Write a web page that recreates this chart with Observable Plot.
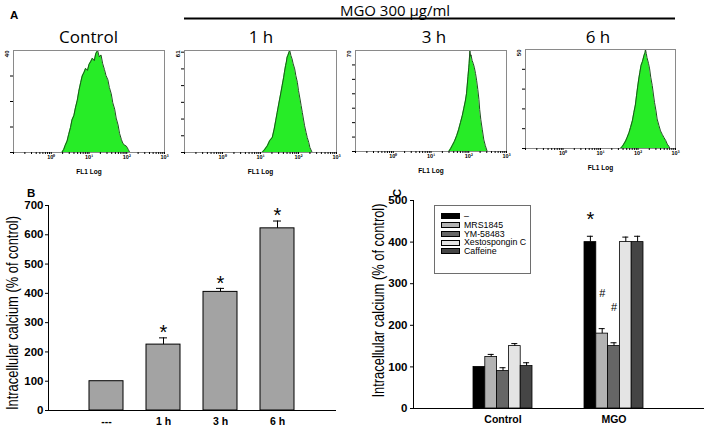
<!DOCTYPE html>
<html>
<head>
<meta charset="utf-8">
<script src="https://cdn.jsdelivr.net/npm/d3@7"></script>
<script src="https://cdn.jsdelivr.net/npm/@observablehq/plot@0.6"></script>
<style>
html, body { margin: 0; padding: 0; background: #fff; }
#root { position: relative; width: 709px; height: 427px; overflow: hidden; background: #fff; font-family: "Liberation Sans", Arial, sans-serif; }
#root svg { overflow: visible; }
</style>
</head>
<body>
<div id="root"></div>
<script>
// ---------------- DATA ----------------
// Panel A: flow cytometry histograms (x = log10 of FL1, y = counts)
const histTitles = ["Control", "1 h", "3 h", "6 h"];
const histMax = [40, 61, 70, 50];
const histTickLabels = ["10⁰", "10¹", "10²", "10³"];

const ctrlLog = [0.28,0.33,0.37,0.42,0.46,0.51,0.55,0.60,0.64,0.69,0.73,0.78,0.82,0.87,0.91,0.96,1.00,1.05,1.09,1.14,1.18,1.23,1.27,1.32,1.36,1.41,1.45,1.50,1.54,1.59,1.63,1.68,1.72,1.77,1.81,1.86,1.90,1.95,1.99,2.04,2.08];
const ctrlCount = [0,1.2,2.8,4.5,7.0,9.8,12.8,14.5,17.5,20.5,24.0,27.5,30.0,31.5,33.0,32.2,34.5,35.8,37.0,36.0,38.8,40,37.5,38.2,35.0,32.5,30.2,28.5,25.5,23.0,19.5,17.0,13.5,10.8,7.5,5.0,3.5,2.8,2.5,1.2,0];

const h1Log = [1.04,1.10,1.18,1.24,1.31,1.36,1.40,1.44,1.48,1.53,1.57,1.61,1.63,1.66,1.68,1.70,1.72,1.75,1.77,1.80,1.83,1.86,1.90,1.93,1.97,2.00,2.04,2.07,2.10,2.13,2.16,2.20,2.23,2.27,2.30,2.36];
const h1Count = [0,1.5,4,7,9,14,19,24,29,35,40,45,48,52,54,57,58,60,61,58,56,53,50,46,42,37,32,28,24,20,16,12,9,6,3,0];

const h3Log = [1.47,1.52,1.56,1.62,1.68,1.73,1.78,1.83,1.87,1.91,1.94,1.96,1.98,2.00,2.01,2.03,2.05,2.06,2.09,2.12,2.15,2.18,2.21,2.24,2.27,2.29,2.32,2.36,2.40,2.44,2.49];
const h3Count = [0,2,4,7,11,15,20,25,30,35,40,46,52,58,61,70,66,67,63,61,58,54,49,43,36,29,22,15,8,4,0];

const h6Log = [1.53,1.58,1.62,1.67,1.71,1.76,1.80,1.85,1.89,1.93,1.96,1.99,2.02,2.05,2.08,2.12,2.16,2.19,2.20,2.22,2.24,2.28,2.31,2.34,2.38,2.41,2.44,2.48,2.51,2.56,2.60,2.65,2.69,2.74,2.78,2.82,2.85];
const h6Count = [0,1,2.2,3.8,5.6,8,10.6,14,18.2,22,26.6,31,35.1,38.5,41.9,44,47,48.5,50,48,45.9,43,40.2,36,31.8,27.5,23.3,19,14.9,11.5,8.9,7,5.6,4,2.2,1.2,0];

// Panel B
const bCats = ["---", "1 h", "3 h", "6 h"];
const bMeans = [100, 225, 405, 622];
const bErrs = [0, 23, 12, 25];
const bSig = ["", "*", "*", "*"];

// Panel C
const cGroups = ["Control", "MGO"];
const cTreatments = ["–", "MRS1845", "YM-58483", "Xestospongin C", "Caffeine"];
const cColors = ["#000000", "#b3b3b3", "#666666", "#e4e4e4", "#454545"];
const cControl = [100, 124, 90, 150, 102];
const cControlErr = [0, 6, 8, 6, 8];
const cMGO = [400, 180, 150, 400, 400];
const cMGOErr = [14, 12, 8, 12, 14];
const cMGOSig = ["*", "#", "#", "", ""];

const yLabel = "Intracellular calcium (% of control)";

// ---------------- LAYOUT ----------------
const FONT = '"Liberation Sans", Arial, sans-serif';
const root = document.getElementById("root");
function place(el, left, top) {
  el.style.position = "absolute";
  el.style.left = left + "px";
  el.style.top = top + "px";
  root.appendChild(el);
}
const baseStyle = {background: "transparent", overflow: "visible", fontFamily: FONT, color: "#000"};

// ---------------- PANEL A ----------------
const histLogs = [ctrlLog, h1Log, h3Log, h6Log];
const histCounts = [ctrlCount, h1Count, h3Count, h6Count];
const histFrames = [[13, 50, 151, 102], [184, 50, 152, 102], [355, 50, 151, 101], [525, 49, 150, 99]];
const decadeTicks = [];
for (let n = -1; n < 3; n++) {
  decadeTicks.push(n);
  for (let k = 2; k < 10; k++) decadeTicks.push(n + Math.log10(k));
}
decadeTicks.push(3);

histTitles.forEach((t, i) => {
  const [fl, ft, fw, fh] = histFrames[i];
  const mL = 14, mR = 10, mT = 6, mB = 28;
  const data = histLogs[i].map((x, k) => ({x, y: histCounts[i][k]}));
  const p = Plot.plot({
    width: fw + mL + mR, height: fh + mT + mB,
    marginLeft: mL, marginRight: mR, marginTop: mT, marginBottom: mB,
    style: baseStyle,
    x: {domain: [-1, 3], label: null},
    y: {domain: [0, histMax[i]], label: null},
    marks: [
      Plot.areaY(data, {x: "x", y: "y", fill: "#27ec27"}),
      Plot.lineY(data, {x: "x", y: "y", stroke: "#1f4f1f", strokeWidth: 1}),
      Plot.frame({stroke: "#8a8a8a"}),
      Plot.axisX({ticks: decadeTicks, tickSize: 2, tickPadding: 1, fontSize: 5.5, fontWeight: "bold", label: null,
        tickFormat: d => (Number.isInteger(d) && d >= 0) ? histTickLabels[d] : ""}),
      Plot.axisY({ticks: d3.range(0, histMax[i], 10), tickSize: 3, tickFormat: () => "", label: null}),
      Plot.text([String(histMax[i])], {frameAnchor: "top-left", text: d => d, rotate: -90, textAnchor: "end", dx: -9, fontSize: 6, fontWeight: "bold"}),
      Plot.text(["FL1 Log"], {frameAnchor: "bottom", text: d => d, dy: 21, lineAnchor: "bottom", fontSize: 6.5, fontWeight: "bold"})
    ]
  });
  place(p, fl - mL, ft - mT);
});

// ---------------- PANEL B ----------------
const bData = bCats.map((c, i) => ({c, v: bMeans[i], e: bErrs[i], s: bSig[i]}));
const bErrData = bData.filter(d => d.e > 0);
const plotB = Plot.plot({
  width: 355, height: 252,
  marginLeft: 48, marginRight: 20, marginTop: 30, marginBottom: 17,
  style: baseStyle,
  x: {domain: bCats, paddingInner: 0.41, paddingOuter: 0.7, label: null},
  y: {domain: [0, 700], label: null},
  marks: [
    Plot.barY(bData, {x: "c", y: "v", fill: "#a3a3a3", stroke: "#000", strokeWidth: 1}),
    Plot.ruleX(bErrData, {x: "c", y1: "v", y2: d => d.v + d.e, stroke: "#000"}),
    Plot.tickY(bErrData, {x: "c", y: d => d.v + d.e, insetLeft: 13, insetRight: 13, stroke: "#000"}),
    Plot.text(bData.filter(d => d.s), {x: "c", y: d => d.v + d.e, text: "s", dy: -5, fontSize: 20, lineAnchor: "middle"}),
    Plot.frame({anchor: "left", stroke: "#000"}),
    Plot.frame({anchor: "bottom", stroke: "#000"}),
    Plot.axisY({ticks: d3.range(0, 701, 100), tickSize: 3, tickPadding: 2, fontSize: 11.5, fontWeight: "bold", label: null}),
    Plot.axisX({tickSize: 0, tickPadding: 7, fontSize: 10.5, fontWeight: "bold", label: null}),
    Plot.text([yLabel], {frameAnchor: "left", text: d => d, rotate: -90, dx: -36, dy: 5, fontSize: 16.5, lineAnchor: "middle"})
  ]
});
place(plotB, 0, 175);

// ---------------- PANEL C ----------------
const cDims = {width: 349, height: 252, marginLeft: 53, marginRight: 6, marginTop: 25, marginBottom: 19};
const cX = {domain: cGroups, paddingInner: 0.47, paddingOuter: 0.53, label: null};
const cY = {domain: [0, 500], label: null};
const probe = Plot.plot({...cDims, x: cX, y: cY, marks: [Plot.barY(cGroups, {x: d => d, y: () => 1})]});
const sw = probe.scale("x").bandwidth / cTreatments.length;
const nT = cTreatments.length;
const cMarks = [];
cTreatments.forEach((t, j) => {
  const rows = cGroups.map((g, gi) => ({
    g,
    v: gi === 0 ? cControl[j] : cMGO[j],
    e: gi === 0 ? cControlErr[j] : cMGOErr[j],
    s: gi === 0 ? "" : cMGOSig[j]
  }));
  const off = (j - (nT - 1) / 2) * sw;
  const errRows = rows.filter(d => d.e > 0);
  cMarks.push(Plot.barY(rows, {x: "g", y: "v", fill: cColors[j], stroke: "#000", strokeWidth: 0.8,
    insetLeft: j * sw, insetRight: (nT - 1 - j) * sw}));
  cMarks.push(Plot.ruleX(errRows, {x: "g", y1: "v", y2: d => d.v + d.e, dx: off, stroke: "#000"}));
  cMarks.push(Plot.tickY(errRows, {x: "g", y: d => d.v + d.e, stroke: "#000",
    insetLeft: j * sw + (sw - 6) / 2, insetRight: (nT - 1 - j) * sw + (sw - 6) / 2}));
  cMarks.push(Plot.text(rows.filter(d => d.s === "*"), {x: "g", y: d => d.v + d.e, text: "s", dx: off, dy: -17, fontSize: 20, lineAnchor: "middle"}));
  cMarks.push(Plot.text(rows.filter(d => d.s === "#"), {x: "g", y: d => d.v + d.e, text: "s", dx: off, dy: -35, fontSize: 11, lineAnchor: "middle"}));
});
const plotC = Plot.plot({
  ...cDims,
  style: baseStyle,
  x: cX, y: cY,
  marks: [
    ...cMarks,
    Plot.frame({anchor: "left", stroke: "#000"}),
    Plot.frame({anchor: "bottom", stroke: "#000"}),
    Plot.axisY({ticks: d3.range(0, 501, 100), tickSize: 3, tickPadding: 3, fontSize: 11.5, fontWeight: "bold", label: null}),
    Plot.axisX({tickSize: 0, tickPadding: 7, fontSize: 10.5, fontWeight: "bold", label: null}),
    Plot.text([yLabel], {frameAnchor: "left", text: d => d, rotate: -90, dx: -35, dy: -4, fontSize: 16.5, lineAnchor: "middle"})
  ]
});
place(plotC, 360, 175);

// condense the long rotated axis titles like the original (keep them centred)
const labelLen = 194;
[plotB, plotC].forEach(p => {
  p.querySelectorAll("text").forEach(el => {
    if (el.textContent === yLabel) {
      el.setAttribute("textLength", labelLen);
      el.setAttribute("lengthAdjust", "spacingAndGlyphs");
      el.setAttribute("text-anchor", "start");
      el.setAttribute("x", -labelLen / 2);
    }
  });
});

// legend for panel C
const legend = document.createElement("div");
legend.style.cssText = "width:95px;height:61px;border:1px solid #6e6e6e;background:#fff;box-sizing:content-box;padding-top:6px;font-family:" + FONT + ";font-size:8.8px;color:#000;";
cTreatments.forEach((t, j) => {
  const row = document.createElement("div");
  row.style.cssText = "display:flex;align-items:center;height:8.75px;padding-left:6px;";
  const sw0 = document.createElement("span");
  sw0.style.cssText = "display:inline-block;width:17px;height:4px;border:1px solid #000;margin-right:4px;background:" + cColors[j];
  const lab = document.createElement("span");
  lab.textContent = t;
  lab.style.lineHeight = "8.75px";
  row.appendChild(sw0); row.appendChild(lab);
  legend.appendChild(row);
});
place(legend, 434, 205);

// ---------------- ANNOTATIONS ----------------
const svgNS = "http://www.w3.org/2000/svg";
const ov = document.createElementNS(svgNS, "svg");
ov.setAttribute("width", 709);
ov.setAttribute("height", 427);
ov.style.cssText = "position:absolute;left:0;top:0;pointer-events:none;overflow:visible";
function addText(str, x, y, attrs) {
  const t = document.createElementNS(svgNS, "text");
  t.textContent = str;
  t.setAttribute("x", x); t.setAttribute("y", y);
  for (const k in attrs) t.setAttribute(k, attrs[k]);
  ov.appendChild(t);
  return t;
}
const titleFont = {"font-family": '"Open Sans", Lato, sans-serif', "font-size": 17, "text-anchor": "middle", fill: "#000"};
const titleX = [88.5, 261, 434, 598];
histTitles.forEach((t, i) => addText(t, titleX[i], 42.5, titleFont));
addText("MGO 300 μg/ml", 395, 16, {"font-family": '"Open Sans", Lato, sans-serif', "font-size": 15, "text-anchor": "middle", fill: "#000"});
const line = document.createElementNS(svgNS, "line");
line.setAttribute("x1", 184); line.setAttribute("x2", 675);
line.setAttribute("y1", 18.5); line.setAttribute("y2", 18.5);
line.setAttribute("stroke", "#000"); line.setAttribute("stroke-width", 2);
ov.appendChild(line);
const panelFont = {"font-family": FONT, "font-size": 11.5, "font-weight": "bold", fill: "#000"};
addText("A", 10, 19, panelFont);
addText("B", 27, 197, panelFont);
addText("C", 401, 193, {...panelFont, "text-anchor": "middle", transform: "rotate(-90 401 193)"});
root.appendChild(ov);
</script>
</body>
</html>
